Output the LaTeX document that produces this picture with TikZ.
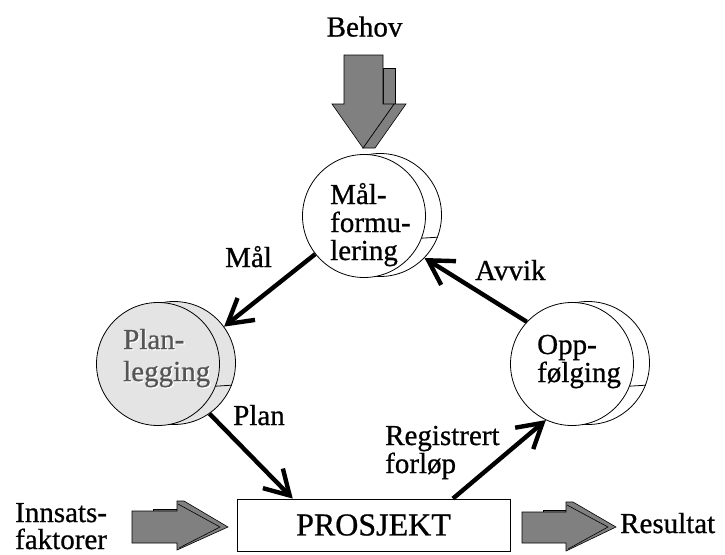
\documentclass[tikz,border=0pt]{standalone}
\usepackage{fontspec}
\setmainfont{Liberation Serif}
\newfontfamily\heavyserif{Liberation Serif}[FakeBold=0.7]
\usetikzlibrary{arrows.meta,calc}

\definecolor{blockgrey}{HTML}{808080}
\definecolor{discgrey}{HTML}{E4E4E4}
\definecolor{embossgrey}{HTML}{555555}

\tikzset{
  lbl/.style={font=\heavyserif\fontsize{29}{31}\selectfont, inner sep=0pt, anchor=base west},
  front/.style={circle, draw, line width=0.8pt, minimum size=123pt, inner sep=0pt},
  back/.style={circle, draw, line width=0.8pt, minimum size=123pt, inner sep=0pt},
  depth/.style={line width=0.8pt},
  conn/.style={line width=4.4pt, -{Straight Barb[length=24pt,width=28pt]}},
  block/.style={fill=blockgrey, draw=black, line width=0.6pt, line join=miter},
  bevel/.style={draw=black, line width=0.6pt},
}

\begin{document}
\begin{tikzpicture}[x=1pt,y=-1pt]
\useasboundingbox[fill=white] (0,0) rectangle (725,554);

% --- Discs: back face first, then front face, then the depth edge
\node[back, fill=white] (malback) at (380,215) {};
\node[front, fill=white] (mal) at (364,216) {};
\draw[depth] (mal.-21) -- (malback.-21);

\node[back, fill=discgrey] (planback) at (174,363) {};
\node[front, fill=discgrey] (plan) at (158,364) {};
\draw[depth] (plan.-21) -- (planback.-21);

\node[back, fill=white] (oppback) at (588,363) {};
\node[front, fill=white] (opp) at (572,364) {};
\draw[depth] (opp.-21) -- (oppback.-21);

% --- Disc captions
\node[lbl] (malt1) at (330,204) {Mål-};
\node[lbl] (malt2) at (330,232) {formu-};
\node[lbl] (malt3) at (330,260) {lering};

\node[lbl, text=white] (plant1s) at (124.2,350.2) {Plan-};
\node[lbl, text=white] (plant2s) at (124.2,382.2) {legging};
\node[lbl, text=embossgrey] (plant1) at (123,349) {Plan-};
\node[lbl, text=embossgrey] (plant2) at (123,381) {legging};

\node[lbl] (oppt1) at (537,354) {Opp-};
\node[lbl] (oppt2) at (537,382) {følging};

% --- Project box
\node[draw, line width=0.8pt, minimum width=273pt, minimum height=52pt, inner sep=0pt,
      font=\heavyserif\fontsize{32}{34}\selectfont] (box) at (373.5,525) {PROSJEKT};

% --- Input arrow from above (Behov)
\node[lbl] (behov) at (326.5,36.5) {Behov};
\filldraw[block] (383,68) rectangle (395,104);
\filldraw[block] (394,104) -- (406,104) -- (375,148) -- (363,148) -- cycle;
\filldraw[block] (344,55) -- (383,55) -- (383,104) -- (394,104) -- (363,148)
  -- (332,104) -- (344,104) -- cycle;

% --- Input arrow from the left (Innsatsfaktorer)
\node[lbl] (inn1) at (15,522) {Innsats-};
\node[lbl] (inn2) at (15,549) {faktorer};
\filldraw[block] (153,509) rectangle (177,511);
\filldraw[block] (132,511) -- (177,511) -- (177,501) -- (184,501) -- (228,527)
  -- (177,550) -- (177,543) -- (132,543) -- cycle;
\draw[bevel] (178,504) -- (220,527) -- (179,548);

% --- Output arrow to the right (Resultat)
\node[lbl] (res) at (620,533) {Resultat};
\filldraw[block] (543,510) rectangle (566,512);
\filldraw[block] (522,512) -- (566,512) -- (566,502) -- (573,502) -- (616,527)
  -- (566,551) -- (566,543) -- (522,543) -- cycle;
\draw[bevel] (567,505) -- (608,527) -- (568,549);

% --- Cycle connectors
\draw[conn] (mal.218) -- (planback.36);
\draw[conn] (opp.137) -- (malback.-44);
\draw[conn] (planback.-55) -- ($(box.north west)!0.205!(box.north east)$);
\draw[conn] ($(box.north west)!0.79!(box.north east)$) -- (opp.245);

% --- Connector labels
\node[lbl] (lmal) at (225,267) {Mål};
\node[lbl] (lavvik) at (475,280) {Avvik};
\node[lbl] (lplan) at (233,425) {Plan};
\node[lbl] (lreg1) at (385,445) {Registrert};
\node[lbl] (lreg2) at (385,473) {forløp};
\end{tikzpicture}
\end{document}
